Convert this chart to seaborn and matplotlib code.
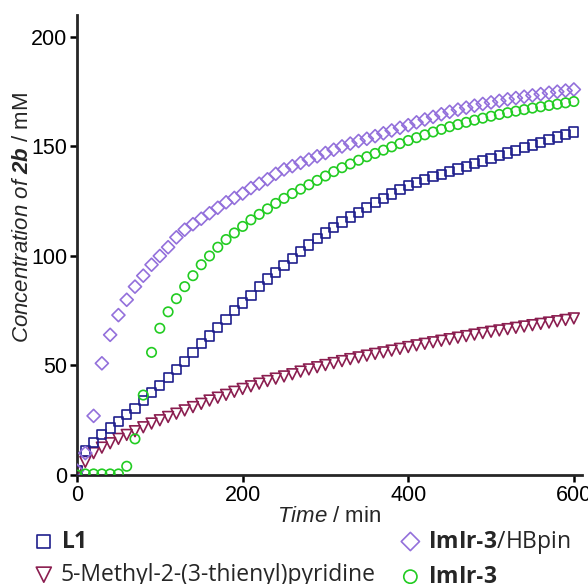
import matplotlib
matplotlib.use("Agg")
import matplotlib.pyplot as plt
import seaborn as sns

# reaction time, min (one reading every 10 min)
time_min = list(range(0, 601, 10))

# concentration of 2b, mM
conc_L1 = [2, 11, 15, 18.5, 21.5, 24.5, 27.5, 30.5, 34, 37.5,
           41, 44.5, 48, 52, 56, 60, 63.5, 67.5, 71, 75,
           78.5, 82, 86, 89.5, 92.5, 95.8, 99, 102, 105, 107.8,
           110.5, 113, 115.5, 117.8, 120, 122.2, 124.3, 126.3, 128.3, 130.2,
           132, 133.4, 134.8, 136.1, 137.3, 138.5, 139.7, 141, 142.2, 143.4,
           144.6, 145.8, 147, 148.2, 149.5, 150.7, 151.9, 153.1, 154.3, 155.5,
           156.6]
conc_pyr = [1.5, 6, 10, 12.5, 14.5, 16.5, 18.3, 20, 21.8, 23.5,
            25, 26.5, 28, 29.5, 31, 32.5, 34, 35.3, 36.6, 38,
            39.3, 40.5, 41.7, 42.9, 44, 45, 46, 47.2, 48.2, 49.2,
            50.2, 51.1, 52, 52.9, 53.7, 54.5, 55.3, 56, 56.8, 57.6,
            58.4, 59.2, 59.9, 60.6, 61.3, 62, 62.7, 63.4, 64.1, 64.8,
            65.4, 66, 66.6, 67.2, 67.8, 68.4, 69, 69.6, 70.2, 70.8,
            71.5]
conc_hbpin = [2, 10, 27, 51, 64, 73, 80, 86, 91, 96,
              100, 104, 108.5, 112, 114.5, 117, 119.5, 122, 124.5, 126.5,
              128.5, 131, 133, 135, 137.5, 139.5, 141, 142.5, 144, 145.5,
              147, 148.5, 150, 151.3, 152.5, 153.5, 154.7, 156, 157.3, 158.5,
              159.7, 161, 162.3, 163.5, 164.7, 165.8, 166.8, 167.7, 168.6, 169.4,
              170.1, 170.8, 171.5, 172.1, 172.7, 173.3, 173.9, 174.5, 175, 175.5,
              176]
conc_imir = [0, 0.5, 0.5, 0.5, 0.5, 0.5, 4, 16.5, 36.5, 56,
             67, 74.5, 80.5, 86, 91, 96, 100, 104, 107.5, 110.5,
             113.5, 116.5, 119, 121.5, 124, 126.3, 128.5, 130.5, 132.5, 134.5,
             136.5, 138.5, 140.3, 142, 143.7, 145.3, 146.8, 148.3, 149.8, 151.3,
             152.7, 154, 155.3, 156.6, 157.8, 159, 160, 161, 162, 162.9,
             163.8, 164.6, 165.4, 166.1, 166.8, 167.5, 168.1, 168.7, 169.3, 169.9,
             170.5]

sns.set_style("ticks")
plt.rcParams["font.family"] = ["Liberation Sans", "DejaVu Sans"]
plt.rcParams["mathtext.fontset"] = "custom"
plt.rcParams["mathtext.it"] = "Liberation Sans:italic"
plt.rcParams["mathtext.bfit"] = "Liberation Sans:italic:bold"
plt.rcParams["mathtext.rm"] = "Open Sans"
plt.rcParams["mathtext.bf"] = "Open Sans:bold"

fig = plt.figure(figsize=(5.88, 5.84), dpi=100)
ax = fig.add_axes([0.131, 0.1866, 0.859, 0.7877])

series = [
    (conc_L1, "s", 44, "#1f1f8c", r"$\mathbf{L1}$"),
    (conc_pyr, "v", 60, "#8b1e50", "5-Methyl-2-(3-thienyl)pyridine"),
    (conc_hbpin, "D", 44, "#9370db", "$\\mathbf{ImIr\u20103}$/HBpin"),
    (conc_imir, "o", 46, "#22cc22", "$\\mathbf{ImIr\u20103}$"),
]
# draw order: maroon triangles, navy squares, purple diamonds, green circles
for yv, mk, sz, col, lab in [series[1], series[0], series[2], series[3]]:
    sns.scatterplot(x=time_min, y=yv, marker=mk, s=sz, facecolor="none",
                    edgecolor=col, linewidth=1.2, label=lab, ax=ax, zorder=3)

ax.set_xlim(0, 610)
ax.set_ylim(0, 210)
ax.set_xticks([0, 200, 400, 600])
ax.set_yticks([0, 50, 100, 150, 200])
sns.despine(ax=ax)
for sp in ["left", "bottom"]:
    ax.spines[sp].set_linewidth(2)
ax.tick_params(width=1.8, length=5, labelsize=15.5, pad=2, colors="black")

ax.set_xlabel(r"$\mathit{Time}$ / min", fontsize=16, labelpad=0)
ax.set_ylabel(r"$\mathit{Concentration\ of}$ $\mathbfit{2b}$ / mM",
              fontsize=16)
ax.yaxis.set_label_coords(-0.088, 0.559)

h, l = ax.get_legend_handles_labels()
order = [l.index(s[4]) for s in series]
ax.legend([h[i] for i in order], [l[i] for i in order], ncol=2,
          loc="upper left", bbox_to_anchor=(0.055, 0.095),
          bbox_transform=fig.transFigure, frameon=False,
          prop={"family": "Open Sans", "size": 16.5}, markerscale=1.4,
          handletextpad=0.25, columnspacing=1.0, labelspacing=0.4,
          handlelength=1.0, borderaxespad=0, borderpad=0)

fig.savefig("out.png", dpi=100)
